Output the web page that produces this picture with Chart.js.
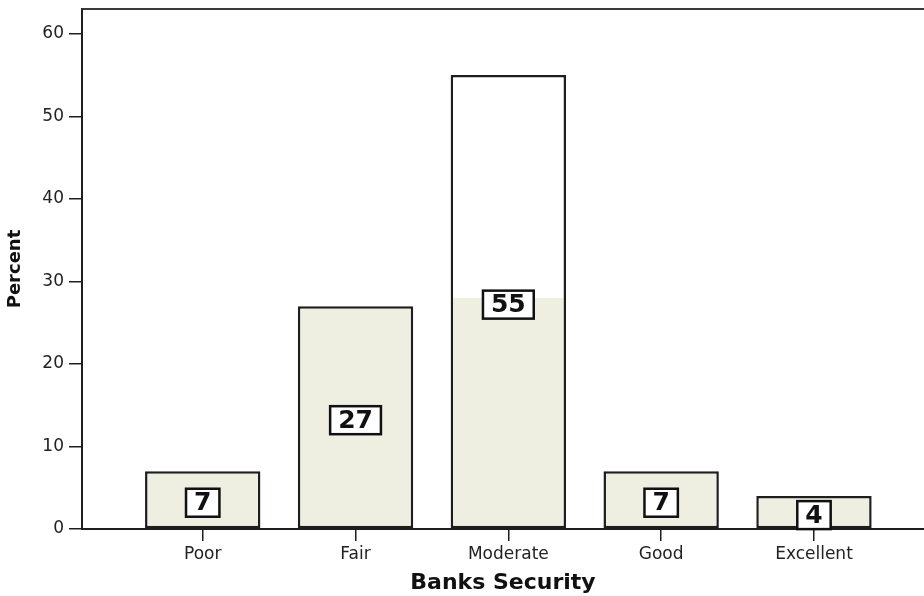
<!DOCTYPE html>
<html>
<head>
<meta charset="utf-8">
<title>Banks Security</title>
<script src="https://cdn.jsdelivr.net/npm/chart.js@4.4.1/dist/chart.umd.min.js"></script>
<style>
  html, body { margin: 0; padding: 0; background: #fff; overflow: hidden; }
  canvas { display: block; }
</style>
</head>
<body>
<canvas id="chart" width="924" height="596"></canvas>
<script>
  const categories = ["Poor", "Fair", "Moderate", "Good", "Excellent"];
  const percents = [7, 27, 55, 7, 4];
  const yTicks = [0, 10, 20, 30, 40, 50, 60];

  const BAR_FILL = "#efefe1";
  const INK = "#1e1e1e";

  // tall bars look washed out above this level
  const PALE_ABOVE = 28;

  function barFill(context) {
    const { chart } = context;
    const area = chart.chartArea;
    if (!area) return BAR_FILL;
    const cut = chart.scales.y.getPixelForValue(PALE_ABOVE);
    const f = Math.min(Math.max((cut - area.top) / (area.bottom - area.top), 0), 1);
    const g = chart.ctx.createLinearGradient(0, area.top, 0, area.bottom);
    g.addColorStop(0, "#ffffff");
    g.addColorStop(f, "#ffffff");
    g.addColorStop(f, BAR_FILL);
    g.addColorStop(1, BAR_FILL);
    return g;
  }

  // boxed value in the middle of every bar
  const valueBoxes = {
    id: "valueBoxes",
    afterDatasetsDraw(chart) {
      const { ctx } = chart;
      const meta = chart.getDatasetMeta(0);
      ctx.save();
      ctx.font = "bold 25px 'DejaVu Sans'";
      ctx.textAlign = "center";
      ctx.textBaseline = "middle";
      meta.data.forEach((bar, i) => {
        const text = String(percents[i]);
        const w = ctx.measureText(text).width + 16;
        const h = 28;
        const cx = bar.x;
        const cy = (bar.y + bar.base) / 2 + 3;
        ctx.fillStyle = "#fff";
        ctx.fillRect(cx - w / 2, cy - h / 2, w, h);
        ctx.lineWidth = 2.5;
        ctx.strokeStyle = "#111";
        ctx.strokeRect(cx - w / 2, cy - h / 2, w, h);
        ctx.fillStyle = "#111";
        ctx.fillText(text, cx, cy + 1);
      });
      ctx.restore();
    },
  };

  // top edge of the plot frame
  const topFrame = {
    id: "topFrame",
    afterDraw(chart) {
      const { ctx, chartArea } = chart;
      ctx.save();
      ctx.strokeStyle = "#3a3a3a";
      ctx.lineWidth = 2;
      ctx.beginPath();
      ctx.moveTo(chartArea.left, chartArea.top);
      ctx.lineTo(chartArea.right, chartArea.top);
      ctx.stroke();
      ctx.restore();
    },
  };

  new Chart(document.getElementById("chart"), {
    type: "bar",
    data: {
      datasets: [
        {
          data: percents.map((v, i) => ({ x: i, y: v })),
          backgroundColor: barFill,
          borderColor: INK,
          borderWidth: 2.5,
          borderSkipped: false,
          barPercentage: 0.755,
          categoryPercentage: 1,
        },
      ],
    },
    options: {
      responsive: false,
      animation: false,
      layout: { padding: { top: 9, right: 0, bottom: 0, left: 0 } },
      plugins: { legend: { display: false }, tooltip: { enabled: false } },
      scales: {
        x: {
          type: "linear",
          offset: false,
          min: -0.79,
          max: 4.72,
          afterFit(scale) {
            scale.height = 67;
            scale.paddingLeft = 0;
            scale.paddingRight = 0;
          },
          afterBuildTicks(scale) {
            scale.ticks = categories.map((_, i) => ({ value: i }));
          },
          ticks: {
            padding: 3,
            color: "#222",
            font: { family: "'DejaVu Sans'", size: 17 },
            callback: (v) => categories[v],
          },
          grid: { offset: false, drawOnChartArea: false, drawTicks: true, tickLength: 12, color: INK, lineWidth: 1.5 },
          border: { display: true, color: INK, width: 2 },
          title: {
            display: true,
            text: "Banks Security",
            color: "#111",
            font: { family: "'DejaVu Sans'", size: 22, weight: "bold" },
            padding: { top: 0, bottom: 0 },
          },
        },
        y: {
          min: 0,
          max: 63,
          afterFit(scale) {
            scale.width = 82;
            scale.paddingTop = 0;
            scale.paddingBottom = 0;
          },
          afterBuildTicks(scale) {
            scale.ticks = yTicks.map((v) => ({ value: v }));
          },
          ticks: {
            padding: 5,
            color: "#222",
            font: { family: "'DejaVu Sans'", size: 17 },
          },
          grid: { drawOnChartArea: false, drawTicks: true, tickLength: 13, color: INK, lineWidth: 1.5 },
          border: { display: true, color: INK, width: 2 },
          title: {
            display: true,
            text: "Percent",
            color: "#111",
            font: { family: "'DejaVu Sans'", size: 18, weight: "bold" },
            padding: { top: 5, bottom: 0 },
          },
        },
      },
    },
    plugins: [valueBoxes, topFrame],
  });
</script>
</body>
</html>
